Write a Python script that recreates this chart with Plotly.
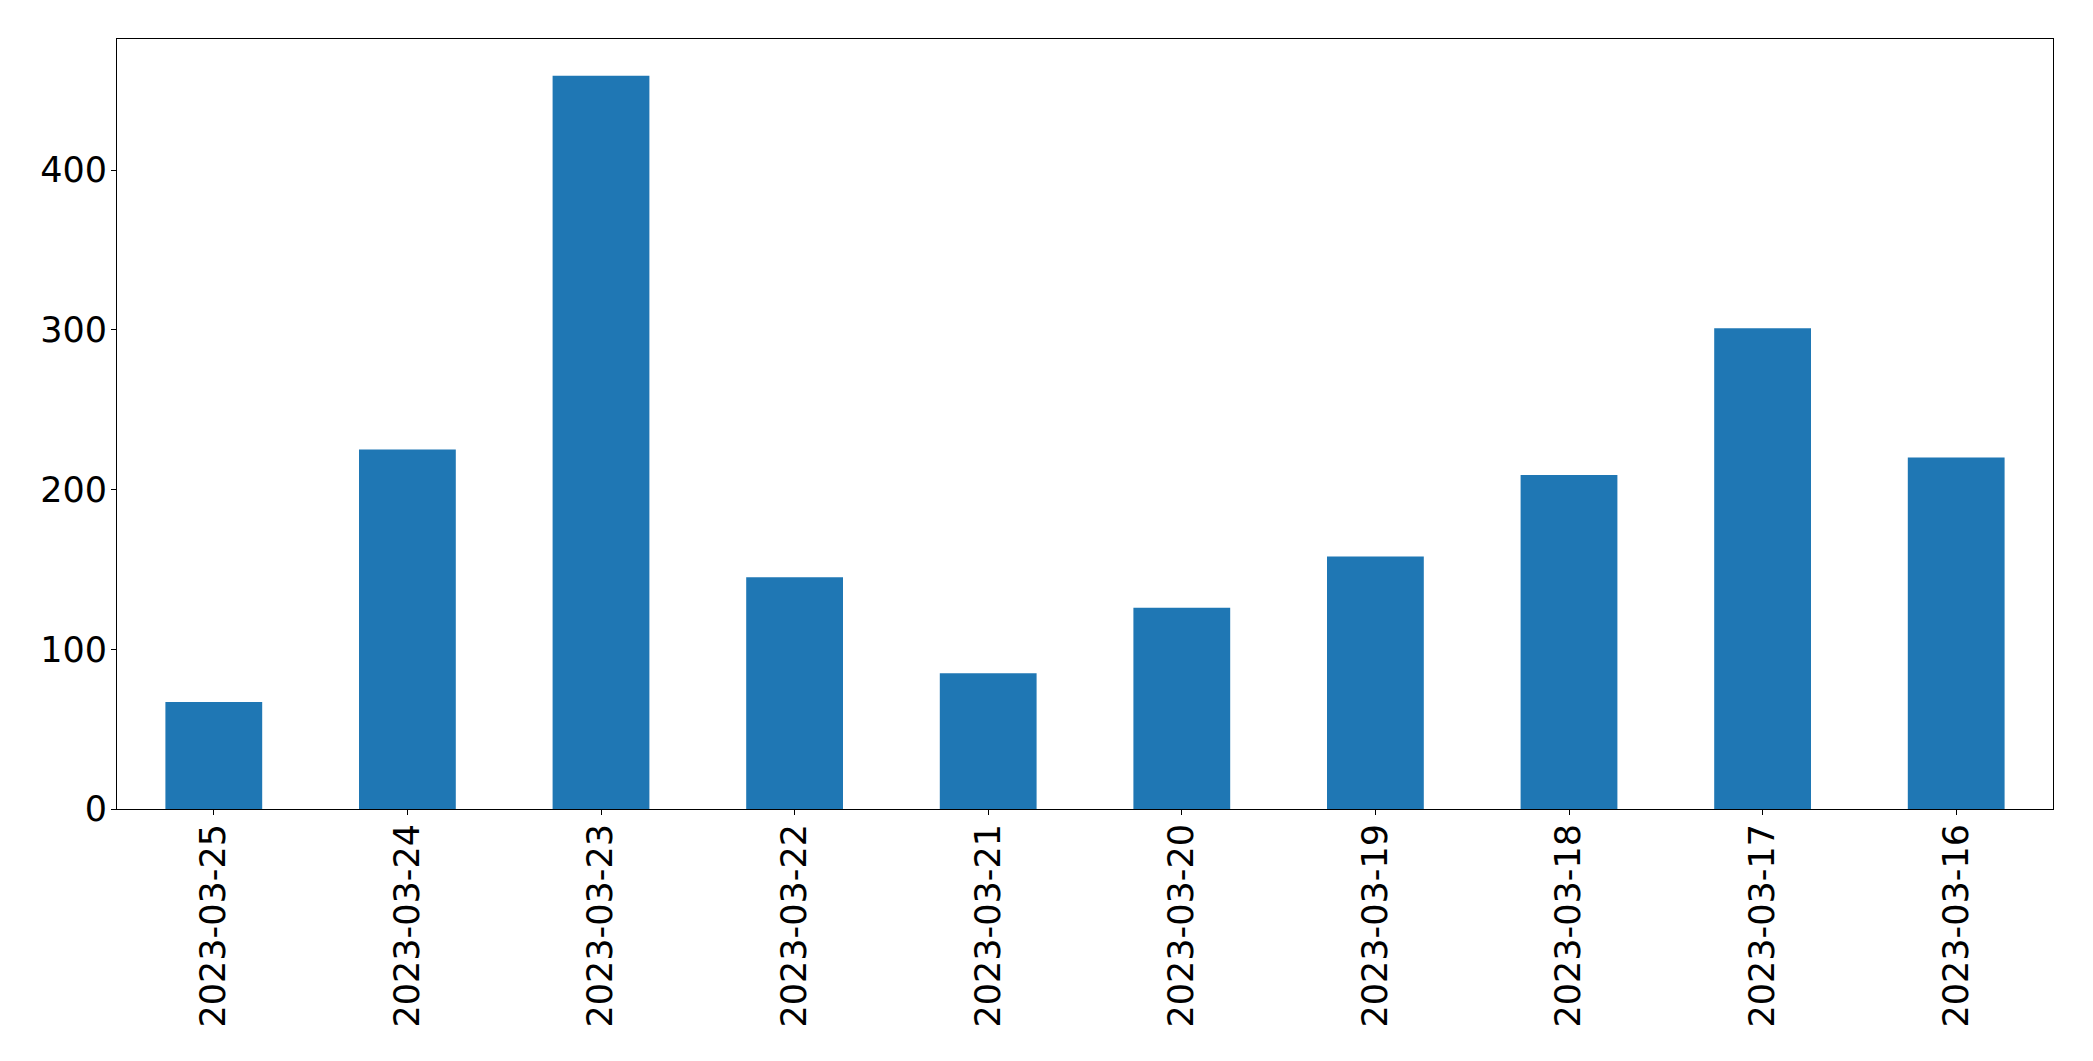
import plotly.graph_objects as go

dates = ["2023-03-25", "2023-03-24", "2023-03-23", "2023-03-22", "2023-03-21",
         "2023-03-20", "2023-03-19", "2023-03-18", "2023-03-17", "2023-03-16"]
counts = [67, 225, 459, 145, 85, 126, 158, 209, 301, 220]
y_ticks = [0, 100, 200, 300, 400]

fig = go.Figure(go.Bar(x=dates, y=counts, marker=dict(color="#1f77b4", line=dict(width=0)), width=0.5))

fig.update_layout(
    width=2093, height=1061,
    margin=dict(l=109, r=48, t=31, b=260),
    paper_bgcolor="white", plot_bgcolor="white",
    font=dict(family="DejaVu Sans", size=35, color="black"),
    showlegend=False,
)
fig.update_xaxes(
    type="category", range=[-0.5, len(dates) - 0.5],
    tickangle=-90, ticks="outside", ticklen=5, tickwidth=1.1, tickcolor="black",
    ticklabelstandoff=-5,
    showline=True, linecolor="black", linewidth=1.1, mirror=True,
    showgrid=False, zeroline=False,
)
fig.update_yaxes(
    range=[0, 482], tickvals=y_ticks, ticktext=[str(v) for v in y_ticks],
    ticks="outside", ticklen=5, tickwidth=1.1, tickcolor="black",
    ticklabelstandoff=-3,
    showline=True, linecolor="black", linewidth=1.1, mirror=True,
    showgrid=False, zeroline=False,
)

fig.write_html("out.html")
